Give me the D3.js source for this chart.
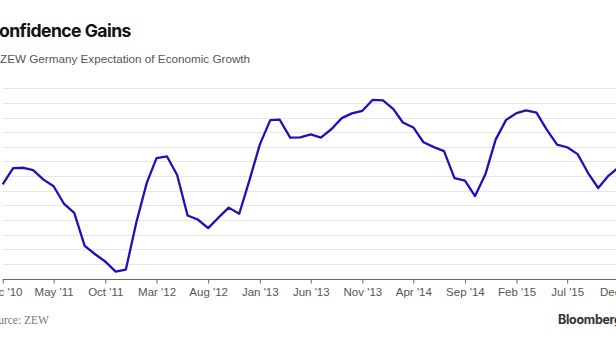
<!DOCTYPE html>
<html>
<head>
<meta charset="utf-8">
<script src="https://cdn.jsdelivr.net/npm/d3@7"></script>
<style>
  html, body { margin: 0; padding: 0; background: #fff; overflow: hidden; }
  svg { display: block; }
</style>
</head>
<body>
<div id="chart"></div>
<script>
// ZEW expectations, monthly, Dec 2010 .. Dec 2015
var startMonth = "2010-12";
var zewValues = [
  4.3,
  15.4, 15.7, 14.1, 7.6, 3.1, -9.0, -15.1, -37.6, -43.3, -48.3, -55.2, -53.8,
  -21.6, 5.4, 22.3, 23.4, 10.8, -16.9, -19.6, -25.5, -18.2, -11.5, -15.7, 6.9,
  31.5, 48.2, 48.5, 36.3, 36.4, 38.5, 36.3, 42.0, 49.6, 52.8, 54.6, 62.0,
  61.7, 55.7, 46.6, 43.2, 33.1, 29.8, 27.1, 8.6, 6.9, -3.6, 11.5, 34.9,
  48.4, 53.0, 54.8, 53.3, 41.9, 31.5, 29.7, 25.0, 12.1, 1.9, 10.4, 16.1
];
var tickMonths = ["2010-12", "2011-05", "2011-10", "2012-03", "2012-08", "2013-01",
  "2013-06", "2013-11", "2014-04", "2014-09", "2015-02", "2015-07", "2015-12"];
var gridValues = [-50, -40, -30, -20, -10, 0, 10, 20, 30, 40, 50, 60, 70];

var W = 616, H = 346;
var parseMonth = d3.timeParse("%Y-%m");
var start = parseMonth(startMonth);
var data = zewValues.map(function(v, i) {
  return { date: d3.timeMonth.offset(start, i), value: v };
});

var x = d3.scaleTime()
  .domain([start, d3.timeMonth.offset(start, 60)])
  .range([2.7, 618.8]);
var y = d3.scaleLinear().domain([-60, 70]).range([278.7, 88.2]);

var svg = d3.select("#chart").append("svg")
  .attr("width", W).attr("height", H);

// title block
svg.append("text")
  .attr("x", -13.5).attr("y", 36.5)
  .style("font-family", "Inter, 'Liberation Sans', sans-serif")
  .style("font-weight", 700)
  .style("font-size", "17.6px")
  .style("letter-spacing", "-0.55px")
  .attr("fill", "#111")
  .text("Confidence Gains");

svg.append("text")
  .attr("x", 0).attr("y", 63)
  .style("font-family", "'Liberation Sans', Arial, sans-serif")
  .style("font-size", "11.7px")
  .attr("fill", "#555")
  .text("ZEW Germany Expectation of Economic Growth");

// horizontal grid
svg.append("g").selectAll("line")
  .data(gridValues)
  .enter().append("line")
  .attr("x1", 2.7).attr("x2", W)
  .attr("y1", function(d) { return Math.round(y(d)) + 0.5; })
  .attr("y2", function(d) { return Math.round(y(d)) + 0.5; })
  .attr("stroke", "#e6e6e6")
  .attr("stroke-width", 1);

// x axis
var xAxis = d3.axisBottom(x)
  .tickValues(tickMonths.map(parseMonth))
  .tickFormat(d3.timeFormat("%b '%y"))
  .tickSize(4)
  .tickPadding(4);

var gx = svg.append("g")
  .attr("transform", "translate(0," + (Math.round(y(-60)) + 0.5) + ")")
  .call(xAxis);
gx.select(".domain").attr("d", "M2.7,0H" + W).attr("stroke", "#666");
gx.selectAll(".tick line").attr("stroke", "#666");
gx.selectAll(".tick text")
  .style("font-family", "'Liberation Sans', Arial, sans-serif")
  .style("font-size", "11.5px")
  .attr("fill", "#555");

// the series line
var line = d3.line()
  .x(function(d) { return x(d.date); })
  .y(function(d) { return y(d.value); });

svg.append("path")
  .datum(data)
  .attr("d", line)
  .attr("fill", "none")
  .attr("stroke", "#2a0cb4")
  .attr("stroke-width", 2.3)
  .attr("stroke-linejoin", "round");

// footer
svg.append("text")
  .attr("x", -14).attr("y", 323.5)
  .style("font-family", "'Liberation Serif', serif")
  .style("font-size", "11.5px")
  .attr("fill", "#777")
  .text("Source: ZEW");

svg.append("text")
  .attr("x", 558).attr("y", 324)
  .style("font-family", "Inter, 'Liberation Sans', sans-serif")
  .style("font-weight", 700)
  .style("font-size", "12.5px")
  .style("letter-spacing", "-0.3px")
  .attr("fill", "#333")
  .text("Bloomberg");
</script>
</body>
</html>
